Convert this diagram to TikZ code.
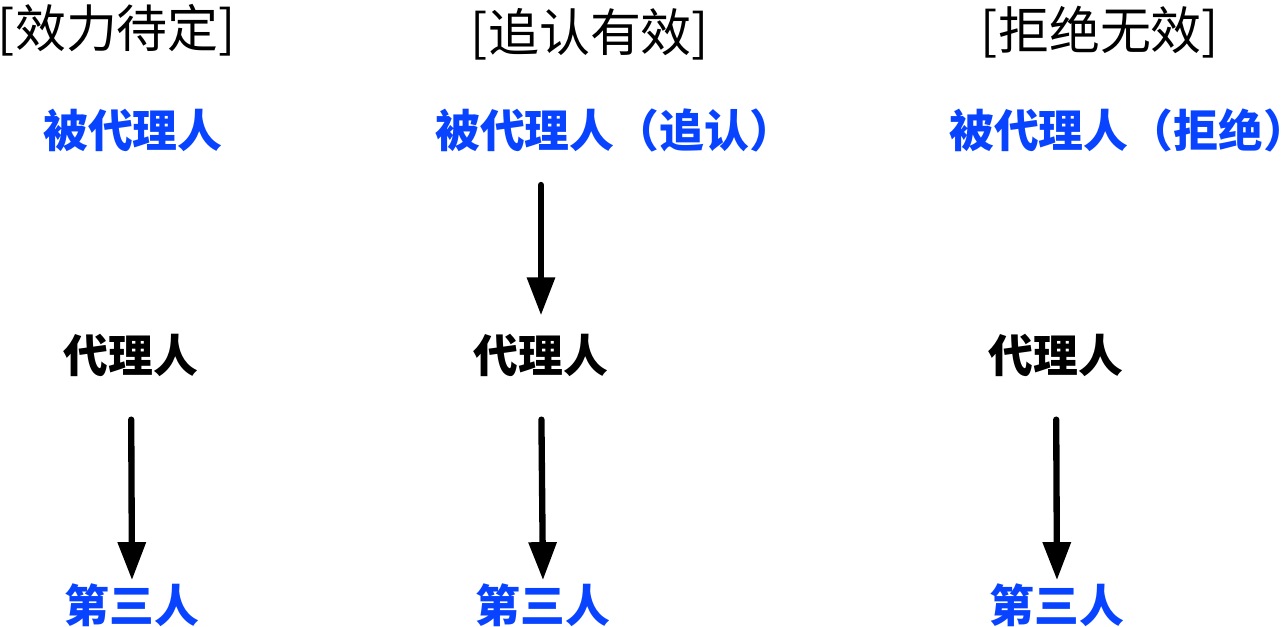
\documentclass[tikz,border=0pt]{standalone}
\usepackage{fontspec}
\newfontfamily\cjk{Noto Sans CJK SC}
\usetikzlibrary{positioning,calc}
\usetikzlibrary{arrows.meta}
\definecolor{PartyBlue}{RGB}{8,68,255}
\tikzset{
  heading/.style={inner sep=0pt,font=\cjk\fontsize{29}{29}\selectfont},
  principal/.style={inner sep=0pt,text=PartyBlue,font=\cjk\bfseries\fontsize{25.5}{25.5}\selectfont},
  agent/.style={inner sep=0pt,text=black,font=\cjk\bfseries\fontsize{25.5}{25.5}\selectfont},
  third/.style={inner sep=0pt,text=PartyBlue,font=\cjk\bfseries\fontsize{25.5}{25.5}\selectfont},
  act/.style={draw=black,line width=3.6pt,line cap=round,
    -{Triangle[length=0.76cm,width=0.54cm]}},
}

\begin{document}
\begin{tikzpicture}
\useasboundingbox (0,0) rectangle (25.62,-12.54);
% column headings
\node[heading] (t1) at (2.34,-0.6) {[效力待定]};
\node[heading] (t2) at (11.8,-0.68) {[追认有效]};
\node[heading] (t3) at (22.0,-0.64) {[拒绝无效]};
% principals
\node[principal] (p1) at (2.66,-2.6) {被代理人};
\node[principal,anchor=west] (p2) at (8.7,-2.6) {被代理人（追认）};
\node[principal,anchor=west] (p3) at (18.98,-2.6) {被代理人（拒绝）};
% agents
\node[agent] (a1) at (2.62,-7.1) {代理人};
\node[agent] (a2) at (10.82,-7.1) {代理人};
\node[agent] (a3) at (21.12,-7.1) {代理人};
% third parties
\node[third] (s1) at (2.64,-12.1) {第三人};
\node[third] (s2) at (10.86,-12.1) {第三人};
\node[third] (s3) at (21.14,-12.1) {第三人};
% acts
\draw[act,shorten <=0.66cm,shorten >=0.36cm] (p2.south -| a2.north) -- (a2.north);
\draw[act,shorten <=0.86cm,shorten >=0.06cm] (a1.south) -- (s1.north);
\draw[act,shorten <=0.86cm,shorten >=0.06cm] (a2.south) -- (s2.north);
\draw[act,shorten <=0.86cm,shorten >=0.06cm] (a3.south) -- (s3.north);
\end{tikzpicture}
\end{document}
